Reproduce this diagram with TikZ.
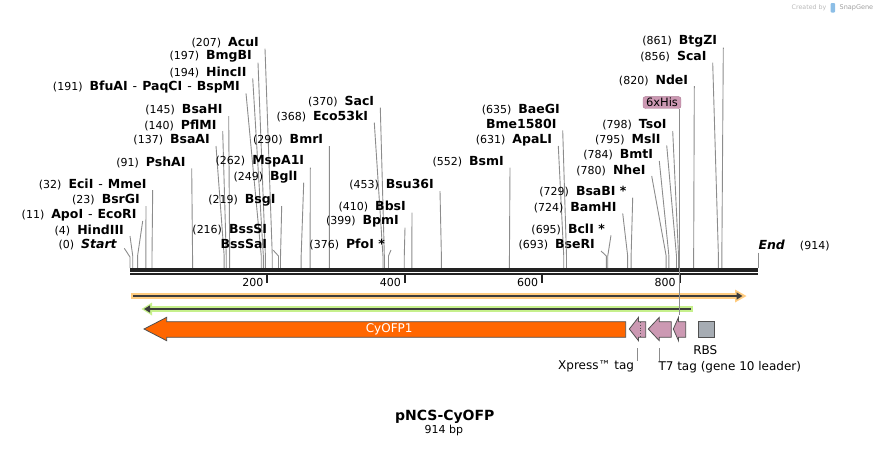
\documentclass[tikz,border=0pt]{standalone}
\usepackage{fontspec}
\setmainfont{DejaVu Sans}
\usetikzlibrary{arrows.meta}

\definecolor{cutgray}{RGB}{140,140,140}
\definecolor{bbline}{RGB}{34,34,34}
\definecolor{orfglow}{RGB}{255,204,128}
\definecolor{orfdark}{RGB}{60,60,60}
\definecolor{greenglow}{RGB}{198,240,140}
\definecolor{cyofp}{RGB}{255,102,0}
\definecolor{tagpink}{RGB}{204,153,179}
\definecolor{hisedge}{RGB}{170,120,145}
\definecolor{rbsgray}{RGB}{166,172,179}
\definecolor{featedge}{RGB}{80,80,80}
\definecolor{logoblue}{RGB}{140,190,230}

\newcommand{\cutnum}[1]{{\mdseries\fontsize{11}{13}\selectfont(#1)}\hspace{7pt}}
\newcommand{\dsh}{\hspace{5pt}{\mdseries -}\hspace{5pt}}

\begin{document}
\begin{tikzpicture}[x=1pt, y=-1pt,
  enz/.style={anchor=east, inner sep=0pt, font=\fontsize{12.5}{14}\selectfont\bfseries},
  cutline/.style={draw=cutgray, line width=0.9pt},
  feat/.style={draw=featedge, line width=0.8pt},
  flabel/.style={inner sep=0pt, font=\fontsize{12}{14}\selectfont},
]
\useasboundingbox (0,0) rectangle (889,448);

% === Enzyme sites (one line each) ===
\foreach \bp/\nm/\lx/\ly [count=\i] in {
  4/HindIII/124/230,
  11/ApoI\dsh EcoRI/136.7/215,
  23/BsrGI/140/200,
  32/EciI\dsh MmeI/146.7/184,
  91/PshAI/185.7/162.3,
  137/BsaAI/210/140,
  140/PflMI/216.7/125,
  145/BsaHI/222.7/110,
  191/BfuAI\dsh PaqCI\dsh BspMI/240/87.3,
  194/HincII/246.7/72.3,
  197/BmgBI/252/56.7,
  207/AcuI/259/42.7,
  219/BsgI/275.7/200,
  249/BglI/297.7/176.7,
  262/MspA1I/304.3/161.7,
  290/BmrI/323.3/140,
  368/Eco53kI/368.3/116.7,
  370/SacI/374.3/101.7,
  376/PfoI */385/244,
  399/BpmI/399/221.7,
  410/BbsI/406/206.7,
  453/Bsu36I/434/185,
  552/BsmI/504/161.7,
  631/ApaLI/552.3/140,
  693/BseRI/595/245,
  695/BclI */605/229.3,
  724/BamHI/616.7/207.3,
  729/BsaBI */626.7/191.7,
  780/NheI/645.7/170,
  784/BmtI/653.3/155,
  795/MslI/660.7/139.3,
  798/TsoI/666.7/125,
  820/NdeI/688.3/80,
  856/ScaI/706.7/56.7,
  861/BtgZI/717.3/41.7}
{
  \node[enz] (cut\i) at (\lx,\ly) {\cutnum{\bp}\nm};
  \coordinate (knee\i) at ({130+0.6874*\bp},256);
  \coordinate (site\i) at ({130+0.6874*\bp},268);
  \draw[cutline] ([xshift=6pt,yshift=-6pt]cut\i.east) -- (knee\i) -- (site\i);
}

% === Grouped sites: top label has the number, bottom one carries the line ===
\foreach \bp/\nm/\lx/\ly [count=\i] in {216/BssSI/267.3/230, 635/BaeGI/560/110}
  \node[enz] (grp\i) at (\lx,\ly) {\cutnum{\bp}\nm};
\foreach \bp/\nm/\lx/\ly [count=\i] in {216/BssSaI/267.3/244.3, 635/Bme1580I/556.7/124.3}
{
  \node[enz] (grpb\i) at (\lx,\ly) {\nm};
  \coordinate (gknee\i) at ({130+0.6874*\bp},256);
  \coordinate (gsite\i) at ({130+0.6874*\bp},268);
  \draw[cutline] ([xshift=6pt,yshift=-6pt]grpb\i.east) -- (gknee\i) -- (gsite\i);
}

% === Start / End ===
\node[enz] (start) at (117.3,244.3) {\cutnum{0}\textit{Start}};
\coordinate (s0) at (130,268);
\draw[cutline] ([xshift=7pt,yshift=-4pt]start.east) -- (130,257) -- (s0);
\node[enz, anchor=west] (endlbl) at (758.3,245) {\textit{End}\hspace{15pt}{\mdseries\fontsize{11}{13}\selectfont(914)}};
\coordinate (s914) at (758.3,268);
\draw[cutline] ([yshift=-2pt]endlbl.south west) -- (s914);

% === Backbone and ruler ===
\draw[bbline, line width=3.3pt] (130,270) -- (758.3,270);
\draw[bbline, line width=2pt] (130,274.4) -- (758.3,274.4);
\foreach \t in {200,400,600,800} {
  \draw[bbline, line width=2pt] ({130+0.6874*\t},275) -- ++(0,8);
  \node[flabel, anchor=east, font=\fontsize{11}{13}\selectfont] (tick\t) at ({126+0.6874*\t},282.3) {\t};
}

% === ORF bars ===
\draw[orfglow, line width=5.5pt] (130.5,296) -- (737,296);
\fill[orfglow] (735,289.5) -- (746.5,296) -- (735,302.5) -- cycle;
\draw[orfdark, line width=2pt, -{Triangle[length=6pt,width=7pt]}] (133,296) -- (742.5,296);

\draw[greenglow, line width=5.5pt] (151,309) -- (692.7,309);
\fill[greenglow] (152,302.5) -- (141.5,309) -- (152,315.5) -- cycle;
\draw[orfdark, line width=2pt, -{Triangle[length=6pt,width=7pt]}] (690.5,309) -- (144,309);

% === Features ===
\draw[feat, fill=cyofp] (144,329) -- (166.7,317.3) -- (166.7,321.7) -- (625.7,321.7)
  -- (625.7,337.3) -- (166.7,337.3) -- (166.7,340.7) -- cycle;
\node[flabel, text=white] (cyofplbl) at (389.2,329) {CyOFP1};

\draw[feat, fill=tagpink] (629.3,329) -- (638.5,317.3) -- (638.5,321.7) -- (645.7,321.7)
  -- (645.7,337.3) -- (638.5,337.3) -- (638.5,340.7) -- cycle;
\draw[dotted, line width=0.8pt, featedge] (640.5,322) -- (640.5,337);
\draw[feat, fill=tagpink] (648.3,329) -- (659.3,317.3) -- (659.3,321.7) -- (671.3,321.7)
  -- (671.3,337.3) -- (659.3,337.3) -- (659.3,340.7) -- cycle;
\draw[feat, fill=tagpink] (673.3,329) -- (678.5,317.3) -- (678.5,321.7) -- (685.7,321.7)
  -- (685.7,337.3) -- (678.5,337.3) -- (678.5,340.7) -- cycle;
\draw[feat, fill=rbsgray] (698.3,321.7) rectangle (714.3,337.3);

\node[flabel] (rbslbl) at (705.3,350) {RBS};
\node[flabel, anchor=east] (xprlbl) at (634.3,366.7) {Xpress™ tag};
\node[flabel, anchor=west] (t7lbl) at (658.3,366.7) {T7 tag (gene 10 leader)};
\coordinate (xprtick) at (637.3,348);
\coordinate (t7tick) at (659.3,348);
\draw[cutline] (xprtick) -- (xprtick |- xprlbl.north);
\draw[cutline] (t7tick) -- (t7tick |- t7lbl.north);

% === 6xHis tag label ===
\node[draw=hisedge, fill=tagpink, rounded corners=2.5pt, inner xsep=3pt, inner ysep=1.5pt,
  font=\fontsize{11.5}{13}\selectfont] (hislbl) at (662,102.5) {6xHis};
\coordinate (hisfeat) at (679.3,315);
\draw[cutline] (hislbl.south -| hisfeat) -- (hisfeat);

% === Title ===
\node[font=\fontsize{14}{16}\selectfont\bfseries] (title) at (444.8,417.3) {pNCS-CyOFP};
\node[font=\fontsize{11}{13}\selectfont] (size) at (443.8,430) {914 bp};

\node[anchor=west, inner sep=0pt, text=gray!55, font=\fontsize{6.3}{8}\selectfont] (made) at (791.5,7.5) {Created by};
\fill[logoblue, rounded corners=1pt] (830.5,3) rectangle (835,12.5);
\node[anchor=west, inner sep=0pt, text=gray!75, font=\fontsize{6.5}{8}\selectfont] (sglogo) at (839.5,7.5) {SnapGene};

\end{tikzpicture}
\end{document}
